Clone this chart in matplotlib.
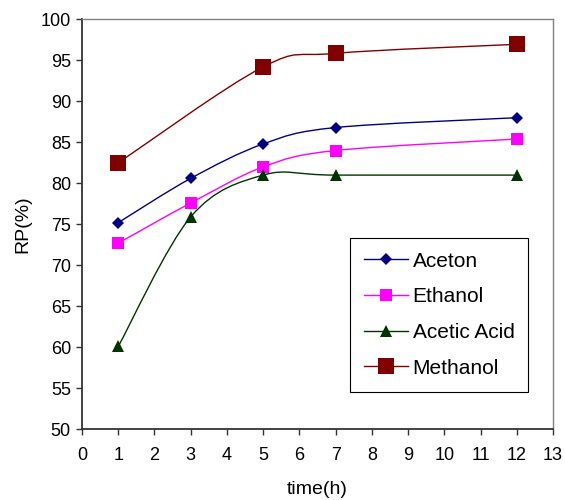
import matplotlib
matplotlib.use("Agg")
import matplotlib.pyplot as plt
from matplotlib.path import Path
from matplotlib.patches import PathPatch
from matplotlib.lines import Line2D

plt.rcParams["font.family"] = ["Liberation Sans", "DejaVu Sans"]

# RP(%) over time for each solvent
time_h = [1, 3, 5, 7, 12]
aceton = [75.2, 80.6, 84.8, 86.8, 88.0]
ethanol = [72.7, 77.6, 82.0, 84.0, 85.4]
acetic_acid = [60.1, 75.9, 81.0, 81.0, 81.0]
time_methanol = [1, 5, 7, 12]
methanol = [82.5, 94.2, 95.85, 96.95]

series = [
    # label, x, y, color, marker, marker size
    ("Aceton", time_h, aceton, "#000080", "D", 6.5),
    ("Ethanol", time_h, ethanol, "#FF00FF", "s", 8),
    ("Acetic Acid", time_h, acetic_acid, "#003300", "^", 8),
    ("Methanol", time_methanol, methanol, "#800000", "s", 11.5),
]


def smooth_path(xs, ys):
    # cubic bezier through the points (catmull-rom style control points)
    pts = list(zip(xs, ys))
    n = len(pts)
    verts = [pts[0]]
    codes = [Path.MOVETO]
    for i in range(n - 1):
        p0 = pts[i - 1] if i > 0 else pts[i]
        p1 = pts[i]
        p2 = pts[i + 1]
        p3 = pts[i + 2] if i + 2 < n else pts[i + 1]
        c1 = (p1[0] + (p2[0] - p0[0]) / 6, p1[1] + (p2[1] - p0[1]) / 6)
        c2 = (p2[0] - (p3[0] - p1[0]) / 6, p2[1] - (p3[1] - p1[1]) / 6)
        verts += [c1, c2, p2]
        codes += [Path.CURVE4] * 3
    return Path(verts, codes)


fig = plt.figure(figsize=(5.65, 5.0), dpi=100)
ax = fig.add_axes([82 / 565, 1 - 429.3 / 500, 471 / 565, 410 / 500])

handles = []
for label, xs, ys, color, marker, ms in series:
    ax.add_patch(PathPatch(smooth_path(xs, ys), facecolor="none",
                           edgecolor=color, linewidth=1.0, zorder=2))
    ax.plot(xs, ys, linestyle="none", marker=marker, markersize=ms,
            color=color, markeredgewidth=0, zorder=3)
    handles.append(Line2D([], [], color=color, linewidth=1.0, marker=marker,
                          markersize=ms, markeredgewidth=0, label=label))

ax.set_xlim(0, 13)
ax.set_ylim(50, 100)
ax.set_xticks(range(0, 14))
ax.set_yticks(range(50, 101, 5))

for side in ["top", "right"]:
    ax.spines[side].set_color("#808080")
    ax.spines[side].set_linewidth(1.0)
for side in ["left", "bottom"]:
    ax.spines[side].set_color("#333333")
    ax.spines[side].set_linewidth(1.3)

ax.tick_params(axis="both", direction="out", length=4, width=1.0,
               color="#333333", labelsize=13)
ax.tick_params(axis="x", pad=9)
ax.tick_params(axis="y", pad=4)

ax.set_xlabel("time(h)", fontsize=14, labelpad=12)
ax.set_ylabel("RP(%)", fontsize=14, labelpad=7)

leg = ax.legend(handles=handles, loc="upper left",
                bbox_to_anchor=(350 / 565, 1 - 238 / 500),
                bbox_transform=fig.transFigure, borderaxespad=0,
                fontsize=15, handlelength=2.1, handletextpad=0.25,
                labelspacing=0.8, borderpad=0.66, fancybox=False,
                edgecolor="black", framealpha=1)
leg.get_frame().set_linewidth(0.8)

fig.savefig("out.png", dpi=100)
